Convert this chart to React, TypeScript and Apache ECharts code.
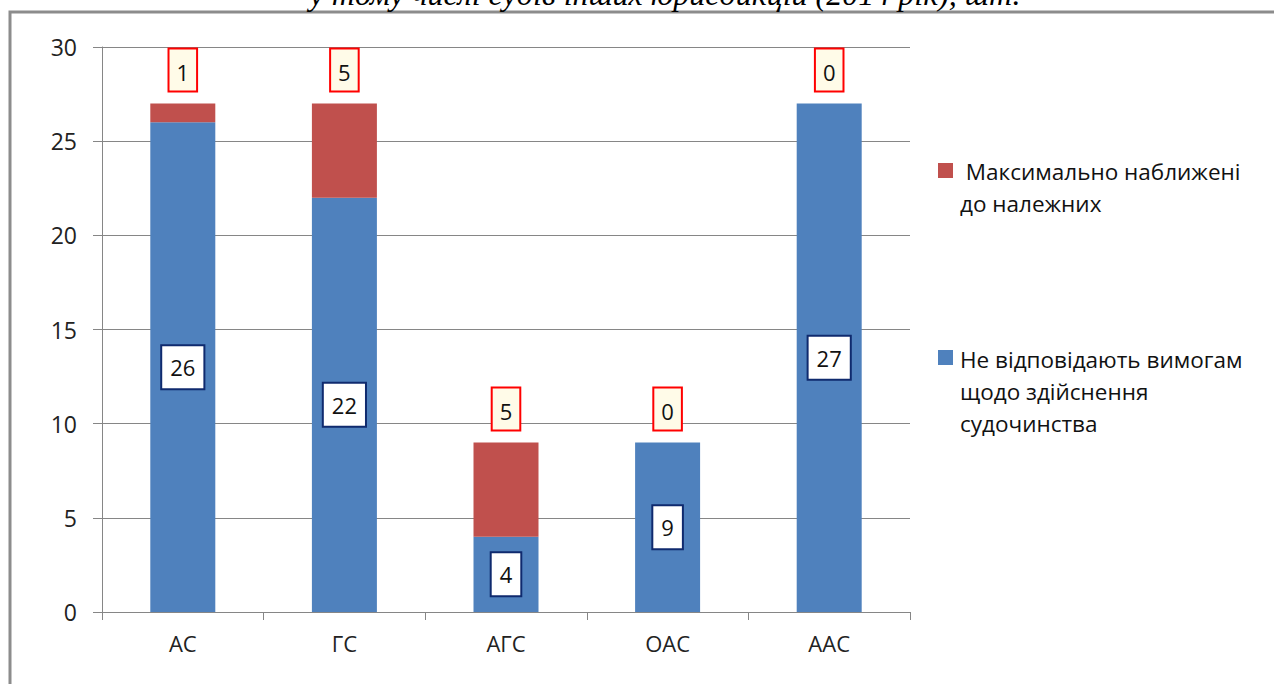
import React, { useEffect, useRef } from "react";
import * as echarts from "echarts";

const categories = ["АС", "ГС", "АГС", "ОАС", "ААС"];
const notCompliant = [26, 22, 4, 9, 27];
const nearProper = [1, 5, 5, 0, 0];
const yTicks = { min: 0, max: 30, interval: 5 };
const titleText = "у тому числі судів інших юрисдикцій (2014 рік), шт.";
const legendRed = [" Максимально наближені", "до належних"];
const legendBlue = ["Не відповідають вимогам", "щодо здійснення", "судочинства"];

const FONT = "'Open Sans', 'Noto Sans', sans-serif";
const RED = "#C0504D";
const BLUE = "#4F81BD";

export default function App() {
  const ref = useRef<HTMLDivElement>(null);
  useEffect(() => {
    if (!ref.current) return;
    const chart = echarts.init(ref.current, null, { renderer: "svg" });
    const legendText = (lines: string[], x: number, y: number) => ({
      type: "text",
      x,
      y,
      style: {
        text: lines.join("\n"),
        font: `22.5px ${FONT}`,
        fill: "#111",
        lineHeight: 32,
        textVerticalAlign: "top",
      },
    });
    chart.setOption({
      animation: false,
      backgroundColor: "#fff",
      grid: { left: 102, right: 364, top: 47, bottom: 72, containLabel: false },
      xAxis: {
        type: "category",
        data: categories,
        axisLine: { lineStyle: { color: "#868686", width: 1 } },
        axisTick: { show: true, length: 8, lineStyle: { color: "#868686" } },
        axisLabel: { color: "#222", fontSize: 22, fontFamily: FONT, margin: 20 },
      },
      yAxis: {
        type: "value",
        min: yTicks.min,
        max: yTicks.max,
        interval: yTicks.interval,
        axisLine: { show: true, lineStyle: { color: "#868686", width: 1 } },
        axisTick: { show: true, length: 9, lineStyle: { color: "#868686" } },
        splitLine: { lineStyle: { color: "#868686", width: 1 } },
        axisLabel: { color: "#222", fontSize: 23, fontFamily: FONT, margin: 25 },
      },
      series: [
        {
          name: legendBlue.join(" "),
          type: "bar",
          stack: "total",
          barWidth: 65,
          data: notCompliant,
          itemStyle: { color: BLUE },
          label: {
            show: true,
            position: "inside",
            color: "#111",
            fontSize: 22,
            fontFamily: FONT,
            lineHeight: 24,
            backgroundColor: "#fff",
            borderColor: "#0f2a6e",
            borderWidth: 2,
            padding: [10, 8, 8, 8],
          },
        },
        {
          name: legendRed.join(" ").trim(),
          type: "bar",
          stack: "total",
          barWidth: 65,
          data: nearProper,
          itemStyle: { color: RED },
          label: {
            show: true,
            position: "top",
            distance: 13,
            color: "#111",
            fontSize: 22,
            fontFamily: FONT,
            lineHeight: 24,
            backgroundColor: "#fffbe8",
            borderColor: "#ff0000",
            borderWidth: 2,
            padding: [10, 7, 7, 7],
          },
        },
      ],
      graphic: [
        {
          type: "rect",
          shape: { x: 10, y: 12, width: 1300, height: 700 },
          style: { fill: "none", stroke: "#8c8c8c", lineWidth: 3 },
          silent: true,
        },
        {
          type: "text",
          x: 665,
          y: 10,
          style: {
            text: titleText,
            font: "italic 32px 'Liberation Serif', 'DejaVu Serif', serif",
            fill: "#000",
            textAlign: "center",
            textVerticalAlign: "bottom",
          },
        },
        { type: "rect", shape: { x: 938, y: 163, width: 15, height: 15 }, style: { fill: RED } },
        legendText(legendRed, 960, 155),
        { type: "rect", shape: { x: 938, y: 350, width: 15, height: 15 }, style: { fill: BLUE } },
        legendText(legendBlue, 960, 343),
      ],
    });
    return () => chart.dispose();
  }, []);
  return (
    <div
      ref={ref}
      style={{ position: "fixed", left: 0, top: 0, width: 1274, height: 684 }}
    />
  );
}
